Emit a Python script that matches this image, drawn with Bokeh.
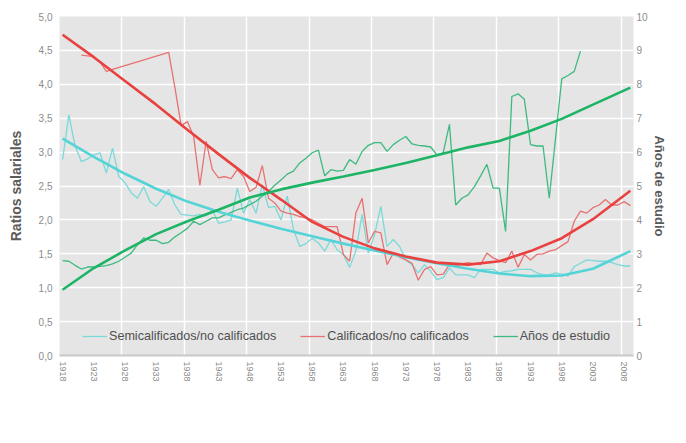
from bokeh.plotting import figure
from bokeh.models import Range1d, LinearAxis, FixedTicker, Legend, LegendItem
from bokeh.embed import file_html
from bokeh.resources import INLINE

# ---------------- data ----------------
semi_years = list(range(1918, 2010))
semi_vals = [2.89, 3.55, 3.09, 2.86, 2.90, 2.96, 2.99, 2.69, 3.06, 2.64,
             2.55, 2.40, 2.32, 2.49, 2.27, 2.20, 2.32, 2.45, 2.22, 2.08,
             2.07, 2.06, 2.08, 2.06, 2.15, 1.95, 1.97, 2.00, 2.47, 2.10,
             2.30, 2.10, 2.52, 2.18, 2.20, 2.00, 2.35, 1.86, 1.61, 1.65,
             1.73, 1.66, 1.54, 1.71, 1.56, 1.49, 1.30, 1.54, 2.08, 1.51,
             1.78, 2.20, 1.61, 1.71, 1.61, 1.41, 1.34, 1.22, 1.34, 1.24,
             1.12, 1.15, 1.29, 1.19, 1.19, 1.19, 1.15, 1.27, 1.27, 1.27,
             1.22, 1.24, 1.25, 1.27, 1.27, 1.27, 1.22, 1.19, 1.19, 1.22,
             1.20, 1.17, 1.31, 1.36, 1.41, 1.40, 1.39, 1.39, 1.37, 1.34,
             1.32, 1.32]

cal_years = [1921, 1922, 1923, 1924, 1925, 1926] + list(range(1935, 2010))
cal_vals = [4.43, 4.42, 4.41, 4.33, 4.19, 4.22,
            4.47, 3.95, 3.39, 3.45, 3.23, 2.51, 3.16, 2.74, 2.62, 2.64,
            2.61, 2.74, 2.64, 2.42, 2.48, 2.80, 2.32, 2.25, 2.13, 2.10,
            2.08, 2.05, 2.03, 2.00, 1.95, 1.90, 1.90, 1.90, 1.49, 1.39,
            2.10, 2.32, 1.66, 1.83, 1.81, 1.34, 1.51, 1.45, 1.41, 1.36,
            1.11, 1.27, 1.31, 1.19, 1.20, 1.34, 1.32, 1.35, 1.37, 1.35,
            1.34, 1.51, 1.44, 1.40, 1.37, 1.54, 1.30, 1.49, 1.41, 1.49,
            1.50, 1.54, 1.56, 1.62, 1.68, 1.98, 2.13, 2.10, 2.18, 2.22,
            2.30, 2.22, 2.22, 2.27, 2.21]

edu_years = list(range(1918, 2002))
edu_vals = [2.80, 2.78, 2.66, 2.55, 2.61, 2.61, 2.63, 2.65, 2.70, 2.78,
            2.90, 3.02, 3.27, 3.47, 3.40, 3.40, 3.30, 3.34, 3.50, 3.62,
            3.75, 3.96, 3.86, 3.96, 4.06, 4.06, 4.15, 4.22, 4.30, 4.35,
            4.45, 4.55, 4.70, 4.84, 5.02, 5.18, 5.35, 5.44, 5.68, 5.82,
            5.98, 6.06, 5.30, 5.48, 5.44, 5.46, 5.78, 5.64, 6.02, 6.20,
            6.28, 6.28, 6.02, 6.22, 6.35, 6.46, 6.24, 6.20, 6.18, 6.15,
            5.92, 5.98, 6.82, 4.44, 4.64, 4.74, 4.98, 5.30, 5.64, 4.94,
            4.94, 3.66, 7.64, 7.72, 7.56, 6.22, 6.18, 6.18, 4.64, 6.40,
            8.16, 8.26, 8.38, 8.98]

trend_years = [1918, 1923, 1928, 1933, 1938, 1943, 1948, 1953, 1958, 1963,
               1968, 1973, 1978, 1983, 1988, 1993, 1998, 2003, 2009]
semi_trend = [3.20, 2.93, 2.68, 2.46, 2.27, 2.12, 1.99, 1.87, 1.76, 1.65,
              1.55, 1.45, 1.36, 1.28, 1.21, 1.17, 1.18, 1.28, 1.54]
cal_trend = [4.73, 4.40, 4.05, 3.70, 3.33, 2.97, 2.62, 2.30, 1.97, 1.75,
             1.58, 1.46, 1.37, 1.34, 1.39, 1.54, 1.73, 2.01, 2.43]
edu_trend = [1.94, 2.58, 3.10, 3.58, 3.96, 4.30, 4.66, 4.90, 5.10, 5.28,
             5.47, 5.68, 5.91, 6.14, 6.33, 6.63, 6.98, 7.40, 7.90]

x_tick_years = list(range(1918, 2009, 5))
y_ticks = [0, 0.5, 1, 1.5, 2, 2.5, 3, 3.5, 4, 4.5, 5]
y_tick_labels = ["0,0", "0,5", "1,0", "1,5", "2,0", "2,5", "3,0", "3,5", "4,0", "4,5", "5,0"]
y2_ticks = [0, 1, 2, 3, 4, 5, 6, 7, 8, 9, 10]
x_grid_lines = [1927.5, 1937.5, 1947.5, 1957.5, 1967.5, 1977.5, 1987.5, 1997.5, 2007.5]

legend_labels = ["Semicalificados/no calificados", "Calificados/no calificados", "Años de estudio"]

# ---------------- styles ----------------
C_SEMI, C_SEMI_T = "#7ad9d9", "#55d4d8"
C_CAL, C_CAL_T = "#e87272", "#e8413f"
C_EDU, C_EDU_T = "#3dba7f", "#1db465"
TICK_COLOR = "#8c8c8c"
TITLE_COLOR = "#5a5a5a"
FONT = "Liberation Sans"

p = figure(frame_width=574, frame_height=339, output_backend="svg", toolbar_location=None,
           x_range=Range1d(1917.5, 2009.5), y_range=Range1d(0, 5),
           min_border_left=59, min_border_right=36, min_border_top=16, min_border_bottom=20)
p.extra_y_ranges = {"right": Range1d(0, 10)}

p.background_fill_color = "#e5e5e5"
p.border_fill_color = "white"
p.outline_line_color = None

# grids
p.xgrid.ticker = FixedTicker(ticks=x_grid_lines)
p.ygrid.ticker = FixedTicker(ticks=y_ticks)
for g in (p.xgrid, p.ygrid):
    g.grid_line_color = "white"
    g.grid_line_width = 1.5

def no_ticks(ax):
    ax.major_tick_line_color = None
    ax.minor_tick_line_color = None
    ax.major_tick_out = 0
    ax.major_tick_in = 0
    ax.minor_tick_out = 0
    ax.minor_tick_in = 0

# x axis
xa = p.xaxis[0]
xa.ticker = FixedTicker(ticks=x_tick_years)
xa.major_label_orientation = "vertical"
xa.major_label_text_font = FONT
xa.major_label_text_font_size = "9px"
xa.major_label_text_color = TICK_COLOR
xa.major_label_standoff = 6
xa.axis_line_color = "#c8c8c8"
xa.axis_line_width = 2
no_ticks(xa)

# left axis
ya = p.yaxis[0]
ya.ticker = FixedTicker(ticks=y_ticks)
ya.major_label_overrides = {t: lab for t, lab in zip(y_ticks, y_tick_labels)}
ya.axis_label = "Ratios salariales"
ya.axis_label_text_font = FONT
ya.axis_label_text_font_style = "bold"
ya.axis_label_text_font_size = "14px"
ya.axis_label_text_color = TITLE_COLOR
ya.axis_label_standoff = 12
ya.major_label_text_font = FONT
ya.major_label_text_font_size = "10px"
ya.major_label_text_color = TICK_COLOR
ya.major_label_standoff = 7
ya.axis_line_color = None
no_ticks(ya)

# right axis
ra = LinearAxis(y_range_name="right", ticker=FixedTicker(ticks=y2_ticks),
                axis_label="Años de estudio")
ra.axis_label_text_font = FONT
ra.axis_label_text_font_style = "bold"
ra.axis_label_text_font_size = "13px"
ra.axis_label_text_color = TITLE_COLOR
ra.axis_label_standoff = 1
ra.major_label_text_font = FONT
ra.major_label_text_font_size = "10px"
ra.major_label_text_color = TICK_COLOR
ra.major_label_standoff = 3
ra.axis_line_color = None
no_ticks(ra)
p.add_layout(ra, "right")

# lines
r_semi = p.line(semi_years, semi_vals, line_color=C_SEMI, line_width=1.3)
r_cal = p.line(cal_years, cal_vals, line_color=C_CAL, line_width=1.3)
r_edu = p.line(edu_years, edu_vals, line_color=C_EDU, line_width=1.3, y_range_name="right")
p.line(trend_years, semi_trend, line_color=C_SEMI_T, line_width=2.6)
p.line(trend_years, cal_trend, line_color=C_CAL_T, line_width=2.6)
p.line(trend_years, edu_trend, line_color=C_EDU_T, line_width=2.6, y_range_name="right")

legend = Legend(items=[LegendItem(label=legend_labels[0], renderers=[r_semi]),
                       LegendItem(label=legend_labels[1], renderers=[r_cal]),
                       LegendItem(label=legend_labels[2], renderers=[r_edu])],
                orientation="horizontal", location="bottom_center",
                label_text_font=FONT, label_text_font_size="12.6px",
                label_text_color="#505050", glyph_width=25, glyph_height=14,
                label_height=14, label_standoff=2, spacing=24,
                padding=0, margin=12, border_line_color=None,
                background_fill_alpha=0)
p.add_layout(legend, "center")

open("out.html", "w").write(file_html(p, INLINE))
